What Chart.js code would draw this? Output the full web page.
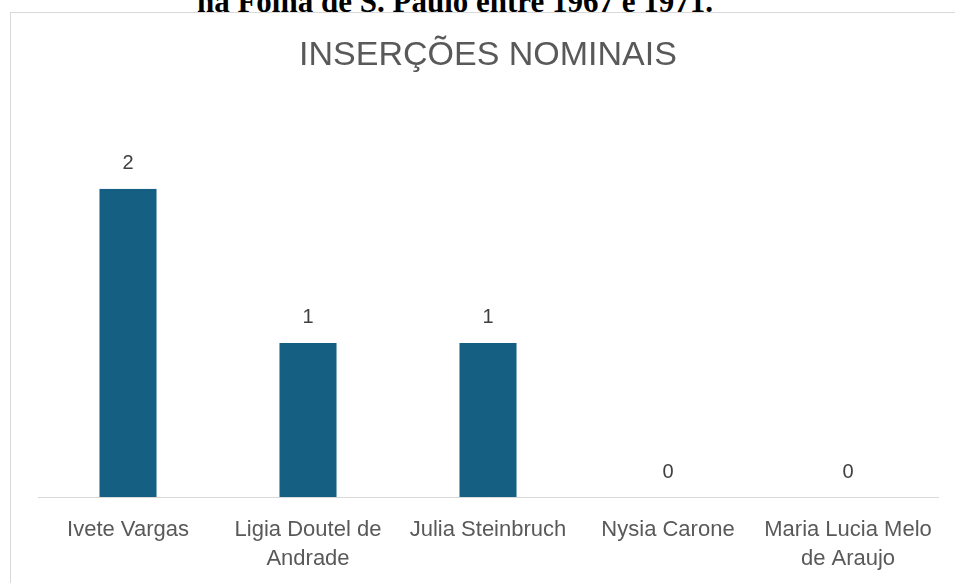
<!DOCTYPE html>
<html>
<head>
<meta charset="utf-8">
<script src="https://cdn.jsdelivr.net/npm/chart.js@4"></script>
<style>
  html, body { margin: 0; padding: 0; background: #fff; overflow: hidden; }
  #caption { position: absolute; left: 0; width: 910px; top: -14px; text-align: center; font: bold 31px/1 "Liberation Serif", serif; color: #000; white-space: nowrap; }
  #frame { position: absolute; left: 10px; top: 12px; width: 980px; height: 620px; border: 1px solid #d9d9d9; box-sizing: border-box; }
  #wrap { position: absolute; left: 0; top: 0; width: 955px; height: 583px; }
</style>
</head>
<body>
<div id="caption">na Folha de S. Paulo entre 1967 e 1971.</div>
<div id="frame"></div>
<div id="wrap"><canvas id="chartCanvas" width="955" height="583"></canvas></div>
<script>
const categories = [['Ivete Vargas'], ['Ligia Doutel de', 'Andrade'], ['Julia Steinbruch'], ['Nysia Carone'], ['Maria Lucia Melo', 'de Araujo']];
const insercoes = [2, 1, 1, 0, 0];
const chartTitle = 'INSERÇÕES NOMINAIS';

const barLabels = {
  id: 'barLabels',
  afterDatasetsDraw(chart) {
    const ctx = chart.ctx, meta = chart.getDatasetMeta(0);
    ctx.save();
    ctx.font = '20px "Liberation Sans", Arial, sans-serif';
    ctx.fillStyle = '#404040';
    ctx.textAlign = 'center'; ctx.textBaseline = 'middle';
    meta.data.forEach((bar, i) => ctx.fillText(String(insercoes[i]), bar.x, bar.y - 25));
    ctx.restore();
  }
};

const ctx = document.getElementById('chartCanvas').getContext('2d');
new Chart(ctx, {
  type: 'bar',
  data: { labels: categories, datasets: [{ data: insercoes, backgroundColor: '#156082', borderWidth: 0, categoryPercentage: 1, barPercentage: 0.317 }] },
  options: {
    responsive: false, animation: false,
    layout: { padding: { left: 38, right: 17, top: 0, bottom: 0 } },
    plugins: {
      legend: { display: false }, tooltip: { enabled: false },
      title: { display: true, text: chartTitle, color: '#595959', font: { family: '"Liberation Sans", Arial, sans-serif', size: 34, weight: 'normal', lineHeight: 1.2 }, padding: { top: 35, bottom: 113 } }
    },
    scales: {
      x: {
        grid: { display: false }, border: { display: true, color: '#d9d9d9', width: 1 },
        ticks: { color: '#595959', maxRotation: 0, autoSkip: false, padding: 10, font: { family: '"Liberation Sans", Arial, sans-serif', size: 22, lineHeight: 1.32 } },
        afterFit(scale) { scale.height = 86; }
      },
      y: { display: false, min: 0, max: 2 }
    }
  },
  plugins: [barLabels]
});
</script>
</body>
</html>
